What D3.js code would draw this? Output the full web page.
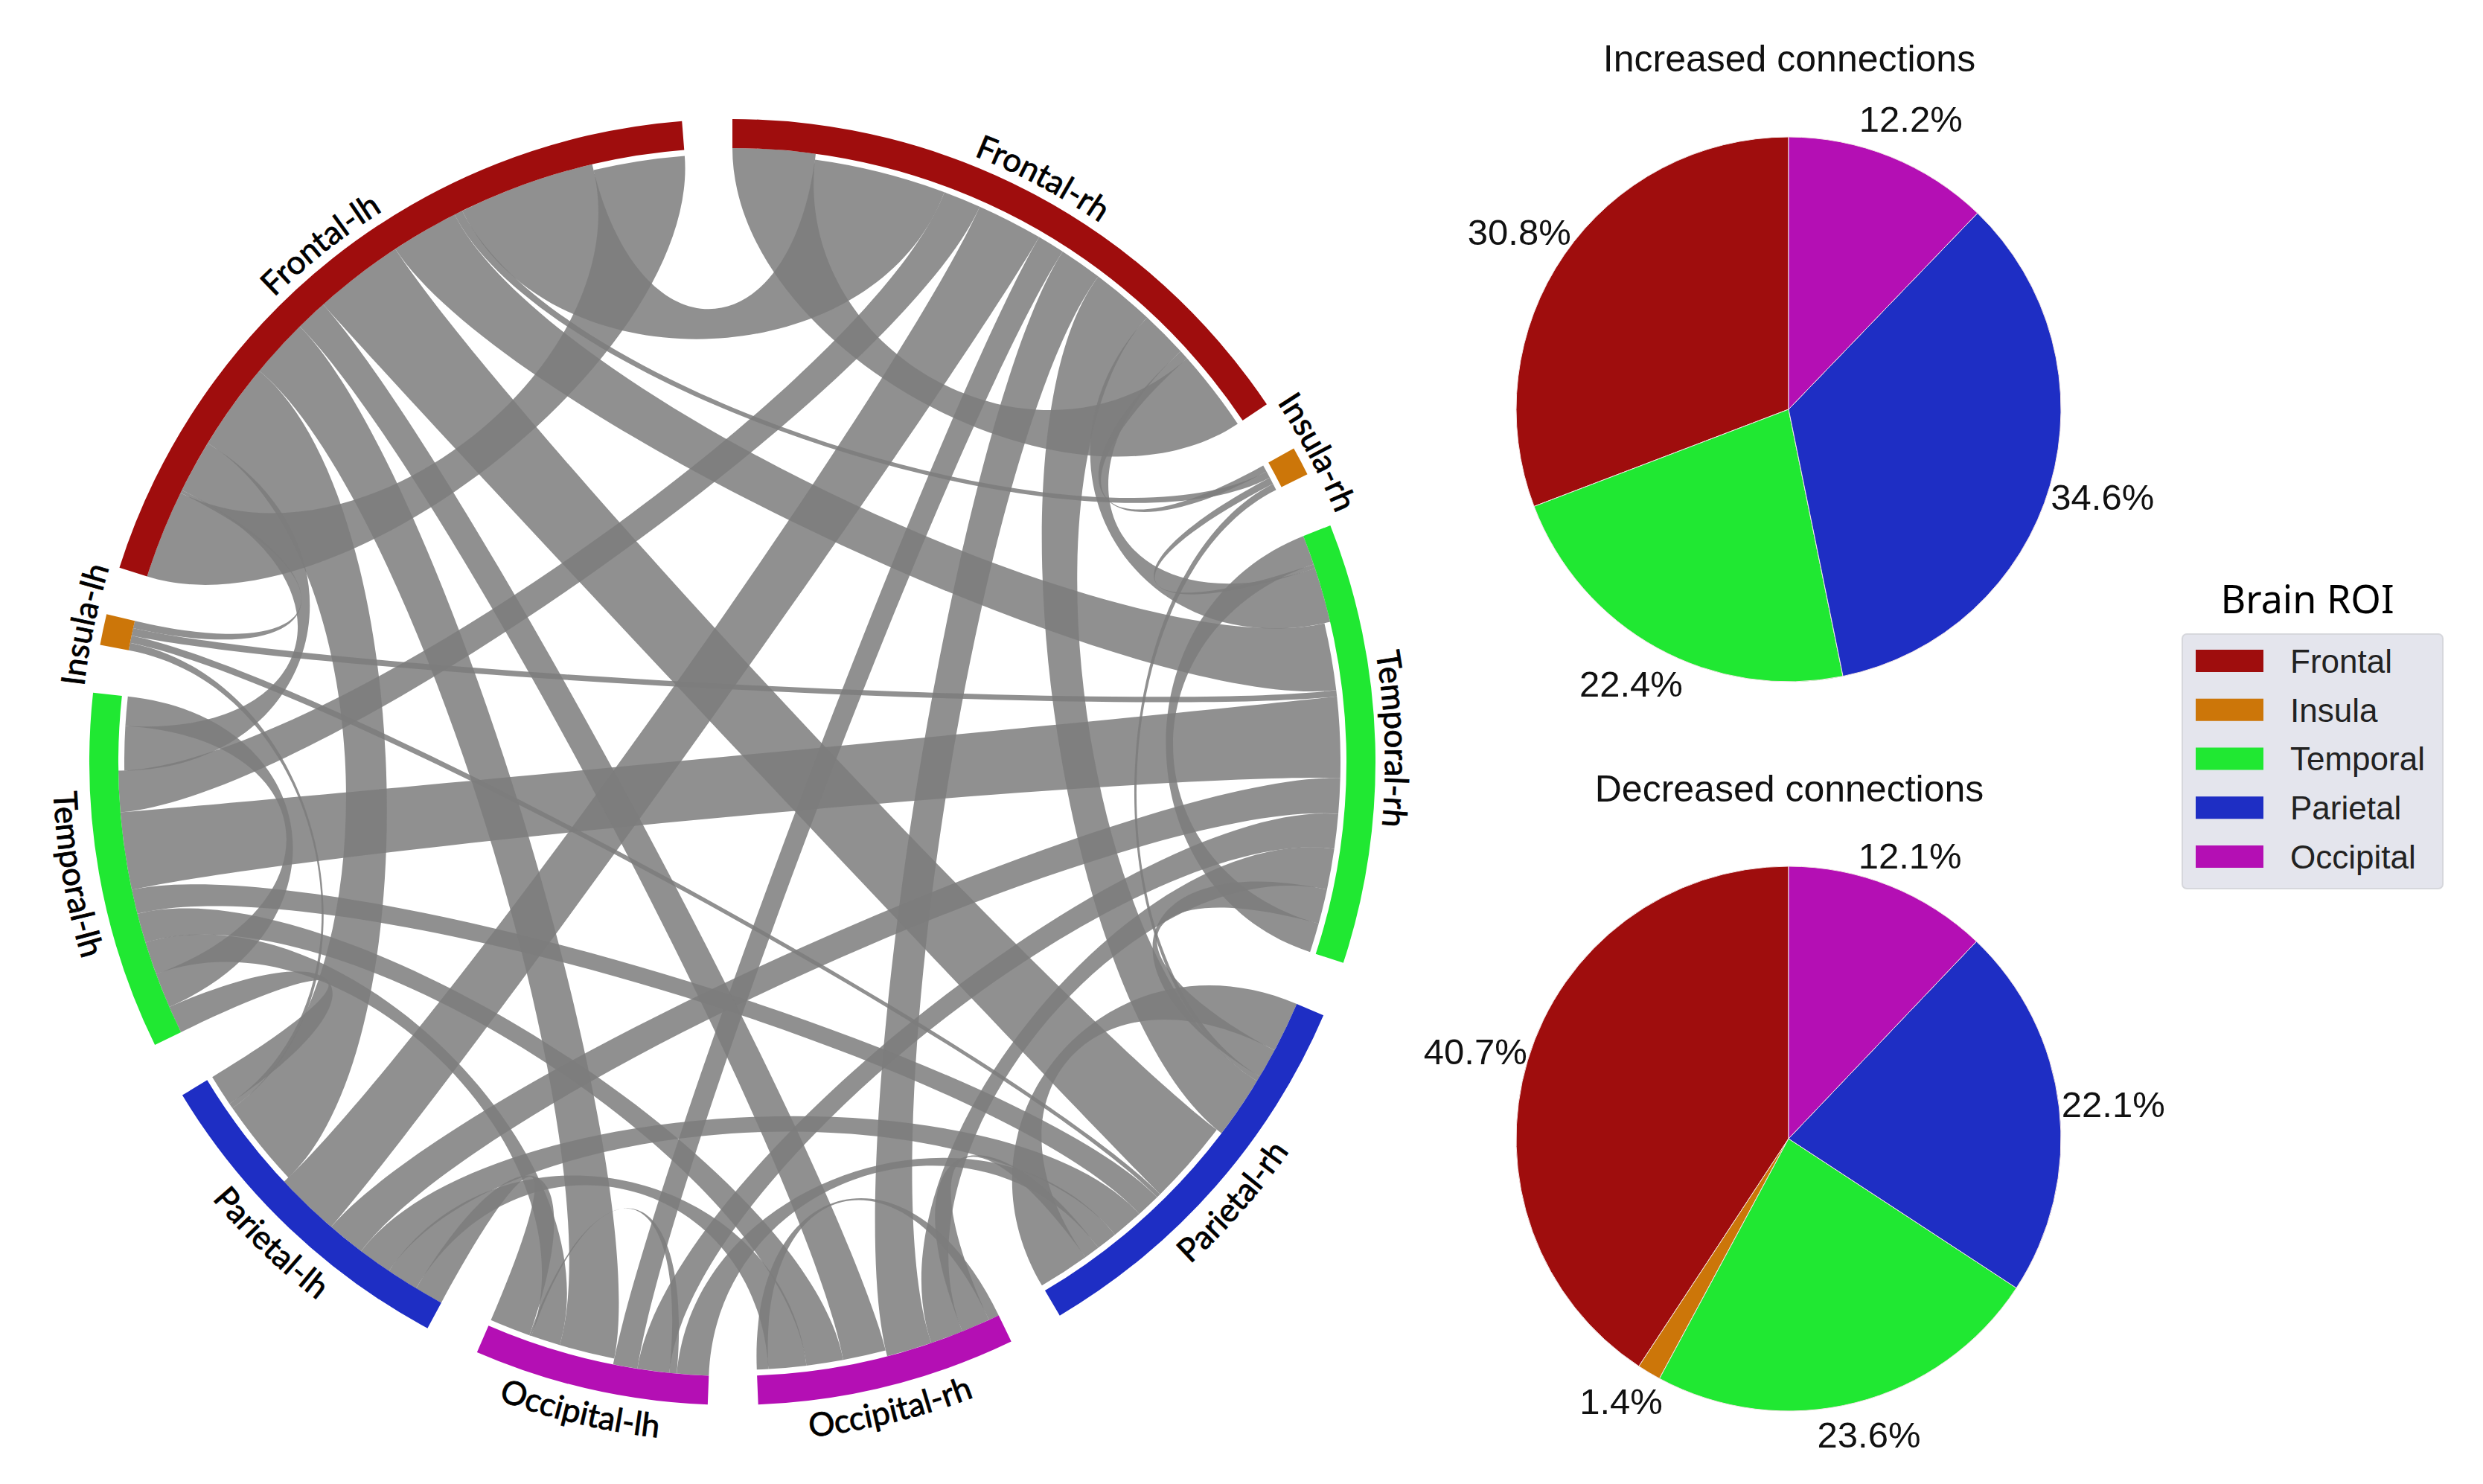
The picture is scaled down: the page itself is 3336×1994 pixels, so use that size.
<!DOCTYPE html>
<html>
<head>
<meta charset="utf-8">
<script src="https://cdn.jsdelivr.net/npm/d3@7"></script>
<style>
  html, body { margin: 0; background: #fff; }
  svg { display: block; }
</style>
</head>
<body>
<svg id="chart" width="3336" height="1994"></svg>
<script>
const lobes = ["Frontal", "Insula", "Temporal", "Parietal", "Occipital"],
      lobeColors = ["#9f0d0d", "#cc7609", "#20e832", "#1e2ec4", "#b40fb4"];

const sectorNames = ["Frontal-rh", "Insula-rh", "Temporal-rh", "Parietal-rh", "Occipital-rh",
                     "Occipital-lh", "Parietal-lh", "Temporal-lh", "Insula-lh", "Frontal-lh"],
      sectorLobes = [0, 1, 2, 3, 4, 4, 3, 2, 1, 0],
      sectorPads = [4.6, 5, 5, 4.9, 4.5, 4.9, 5.1, 4.3, 4.3, 4.5],
      labelAngles = [28, 62.1, 88, 131.3, 166.3, 193.2, 223.8, 260.3, 282, 321.5];

// connection ends per sector, clockwise : [link id, strength]
const frontalRh = [["J",7.8],["K",12.6],["L",3.6],["M",6.3],["N",2.6],["O",4.1],["P",6],["Q",4.5],["R",.9],["J",7.8]],
      insulaRh = [["R",.65],["H",.65],["S",.65],["T",.65]],
      temporalRh = [["CC",2.8],["S",.4],["Q",5.2],["G",6.4],["V",.6],["W",7.7],["X",3.4],["Y",3.3],["Z",3.9],["AA",3.3],["CC",2.8]],
      parietalRh = [["DD",4.8],["AA",2.8],["T",.5],["P",5.9],["F",8.1],["V2",.4],["EE",2.3],["FF",3],["GG",2],["SS",1.5],["DD",4.9]],
      occipitalRh = [["RR",1],["SS",2.7],["Z",3.1],["O",4.3],["E",4.1],["OO",3.5],["II",3.6],["RR",1.1]],
      occipitalLh = [["GG",3],["QQ",.7],["Y",3],["N",2.3],["D",5.3],["NN",2.8],["QQ",.2],["HH",3.9]],
      parietalLh = [["HH",2.7],["II",3],["FF",3.2],["X",3.6],["M",6.1],["C",8.4],["JJ",.5],["KK",3]],
      temporalLh = [["KK",2.6],["LL",3.3],["NN",3.1],["OO",2.8],["EE",2.3],["W",7.3],["L",3.9],["B",4.2],["LL",2.8]],
      insulaLh = [["JJ",.7],["V2",.7],["V",.7],["IL",.7]],
      frontalLh = [["A",8.4],["IL",.3],["B",5],["C",8.3],["D",5.6],["E",3],["F",8.5],["G",6.4],["H",.8],["K",12.9],["A",8.7]];

const sectorEnds = [frontalRh, insulaRh, temporalRh, parietalRh, occipitalRh,
                    occipitalLh, parietalLh, temporalLh, insulaLh, frontalLh];

// parts of the circle where ribbons stop short of the ring
const detachedSpans = [[7.8,56.2],[60,64],[76.8,108.2],[127.2,149.4],[165.4,177.7],
                       [191.2,203.4],[226.9,238.8],[269.2,276.2],[346.8,355.5]];

const pieTitles = ["Increased connections", "Decreased connections"],
      increasedShares = [30.8, 0, 22.4, 34.6, 12.2],
      decreasedShares = [40.7, 1.4, 23.6, 22.1, 12.1];

const svg = d3.select("#chart"),
      rad = d3.scaleLinear().domain([0, 360]).range([0, 2 * Math.PI]),
      center = [984, 1024],
      ringOuter = 864, ringInner = 825, ribbonTight = 825, ribbonLoose = 817,
      handle = .67 * ringInner; // bezier control points sit on the same radial as their end

// lay out sectors and ribbon ends
let cursor = 0;
const links = new Map(),
      sectors = sectorNames.map((name, i) => {
        const start = cursor;
        sectorEnds[i].forEach(([id, value]) => {
          const end = {a0: cursor, a1: cursor + value},
                mid = cursor + value / 2;
          end.r = detachedSpans.some(s => mid > s[0] && mid < s[1]) ? ribbonLoose : ribbonTight;
          if (!links.has(id)) links.set(id, []);
          links.get(id).push(end);
          cursor += value;
        });
        const sector = {name, lobe: sectorLobes[i], start, end: cursor, label: labelAngles[i]};
        cursor += sectorPads[i];
        return sector;
      });

const polar = (deg, r) => [r * Math.sin(rad(deg)), -r * Math.cos(rad(deg))];

function ribbonEdge(p, fromDeg, toDeg, rTo) {
  const [x0, y0] = polar(fromDeg, handle),
        [x1, y1] = polar(toDeg, handle),
        [x, y] = polar(toDeg, rTo);
  p.bezierCurveTo(x0, y0, x1, y1, x, y);
}

function ribbonPath([s, t]) {
  const p = d3.path(),
        arcTo = e => p.arc(0, 0, e.r, rad(e.a0) - Math.PI / 2, rad(e.a1) - Math.PI / 2);
  arcTo(s);
  ribbonEdge(p, s.a1, t.a0, t.r);
  arcTo(t);
  ribbonEdge(p, t.a1, s.a0, s.r);
  p.closePath();
  return p.toString();
}

const chord = svg.append("g").attr("transform", `translate(${center})`);

chord.selectAll("path.ribbon")
  .data(Array.from(links.values()))
  .join("path")
    .classed("ribbon", true)
    .attr("d", ribbonPath)
    .attr("fill", "#7c7c7c")
    .attr("fill-opacity", .85);

const ringArc = d3.arc().innerRadius(ringInner).outerRadius(ringOuter);

chord.selectAll("path.ring")
  .data(sectors)
  .join("path")
    .classed("ring", true)
    .attr("d", d => ringArc({startAngle: rad(d.start), endAngle: rad(d.end)}))
    .attr("fill", d => lobeColors[d.lobe]);

// sector labels follow the ring, lower half is flipped to stay readable
const defs = svg.append("defs");
sectors.forEach((d, i) => {
  const flip = d.label > 90 && d.label < 270,
        r = flip ? 913 : 877,
        p = d3.path(),
        a = rad(d.label) - Math.PI / 2,
        span = rad(32);
  if (flip) {
    p.arc(0, 0, r, a + span, a - span, true);
  } else {
    p.arc(0, 0, r, a - span, a + span);
  }
  defs.append("path").attr("id", "label-arc-" + i).attr("d", p.toString());
});

chord.selectAll("text.sector")
  .data(sectors)
  .join("text")
    .classed("sector", true)
    .attr("font-family", "Lato")
    .attr("font-size", 44)
    .attr("fill", "#000")
    .attr("stroke", "#000")
    .attr("stroke-width", .8)
  .append("textPath")
    .attr("href", (d, i) => "#label-arc-" + i)
    .attr("startOffset", "50%")
    .attr("text-anchor", "middle")
    .text(d => d.name);

// pies
const pieRadius = 366,
      pie = d3.pie().sort(null).startAngle(2 * Math.PI).endAngle(0),
      sliceArc = d3.arc().innerRadius(0).outerRadius(pieRadius);

[[increasedShares, 550, 96, 1.15], [decreasedShares, 1530, 1077, 1.12]].forEach(([shares, cy, titleY, labelRy], i) => {
  const g = svg.append("g").attr("transform", `translate(2403,${cy})`),
        arcs = pie(shares).map((d, k) => ({...d, lobe: k})).filter(d => d.value > 0),
        labelPos = d => {
          const mid = (d.startAngle + d.endAngle) / 2;
          return [Math.sin(mid) * pieRadius * 1.2, -Math.cos(mid) * pieRadius * labelRy];
        };

  g.selectAll("path")
    .data(arcs)
    .join("path")
      .attr("d", sliceArc)
      .attr("fill", d => lobeColors[d.lobe])
      .attr("stroke", "#f4e6e6")
      .attr("stroke-width", 1);

  g.selectAll("text")
    .data(arcs)
    .join("text")
      .attr("transform", d => `translate(${labelPos(d)})`)
      .attr("text-anchor", "middle")
      .attr("dy", "0.36em")
      .attr("font-family", "Liberation Sans")
      .attr("font-size", 49)
      .attr("fill", "#111")
      .text(d => d3.format(".1f")(d.value) + "%");

  svg.append("text")
    .attr("x", 2404)
    .attr("y", titleY)
    .attr("text-anchor", "middle")
    .attr("font-family", "Liberation Sans")
    .attr("font-size", 50)
    .attr("fill", "#111")
    .text(pieTitles[i]);
});

// legend
const legendY = d3.scalePoint().domain(lobes).range([888, 1151]);

svg.append("text")
  .attr("x", 3100)
  .attr("y", 824)
  .attr("text-anchor", "middle")
  .attr("font-family", "Noto Sans")
  .attr("font-size", 52)
  .attr("fill", "#000")
  .text("Brain ROI");

svg.append("rect")
  .attr("x", 2932).attr("y", 852)
  .attr("width", 350).attr("height", 342)
  .attr("rx", 6)
  .attr("fill", "#e4e5ed")
  .attr("stroke", "#d6d7dc")
  .attr("stroke-width", 2);

const legendRows = svg.selectAll("g.legend-row")
  .data(lobes)
  .join("g")
    .classed("legend-row", true)
    .attr("transform", d => `translate(0,${legendY(d)})`);

legendRows.append("rect")
  .attr("x", 2950).attr("y", -15)
  .attr("width", 91).attr("height", 30)
  .attr("fill", (d, i) => lobeColors[i]);

legendRows.append("text")
  .attr("x", 3077)
  .attr("dy", "0.36em")
  .attr("font-family", "Liberation Sans")
  .attr("font-size", 44)
  .attr("fill", "#222")
  .text(d => d);
</script>
</body>
</html>
